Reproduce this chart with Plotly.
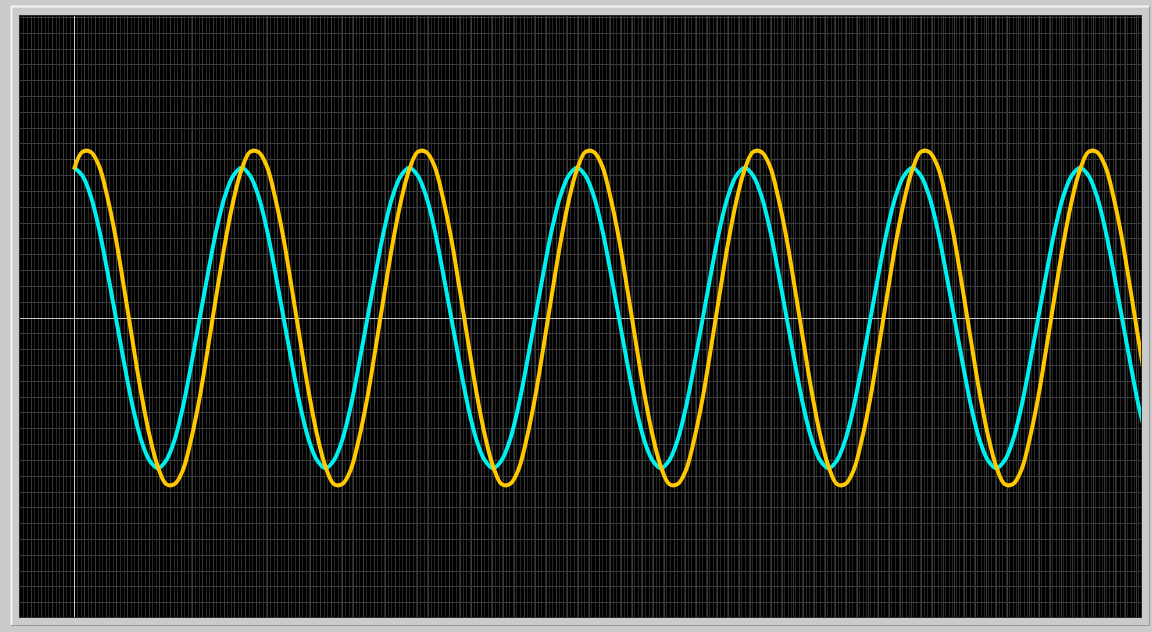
import plotly.graph_objects as go

# ---- data ----
t0 = 0.0          # first sample
dt = 5.0          # sample spacing

cyan_values = [
    0.95, 0.90, 0.77, 0.56, 0.29, 0.00, -0.29, -0.56, -0.77, -0.90,
    -0.95, -0.90, -0.77, -0.56, -0.29, 0.00, 0.29, 0.56, 0.77, 0.90,
    0.95, 0.90, 0.77, 0.56, 0.29, 0.00, -0.29, -0.56, -0.77, -0.90,
    -0.95, -0.90, -0.77, -0.56, -0.29, 0.00, 0.29, 0.56, 0.77, 0.90,
    0.95, 0.90, 0.77, 0.56, 0.29, 0.00, -0.29, -0.56, -0.77, -0.90,
    -0.95, -0.90, -0.77, -0.56, -0.29, 0.00, 0.29, 0.56, 0.77, 0.90,
    0.95, 0.90, 0.77, 0.56, 0.29, 0.00, -0.29, -0.56, -0.77, -0.90,
    -0.95, -0.90, -0.77, -0.56, -0.29, 0.00, 0.29, 0.56, 0.77, 0.90,
    0.95, 0.90, 0.77, 0.56, 0.29, 0.00, -0.29, -0.56, -0.77, -0.90,
    -0.95, -0.90, -0.77, -0.56, -0.29, 0.00, 0.29, 0.56, 0.77, 0.90,
    0.95, 0.90, 0.77, 0.56, 0.29, 0.00, -0.29, -0.56, -0.77, -0.90,
    -0.95, -0.90, -0.77, -0.56, -0.29, 0.00, 0.29, 0.56, 0.77, 0.90,
    0.95, 0.90, 0.77, 0.56, 0.29, 0.00, -0.29, -0.56, -0.77,
]

yellow_values = [
    0.94, 1.05, 1.05, 0.96, 0.76, 0.50, 0.18, -0.15, -0.47, -0.74,
    -0.94, -1.05, -1.05, -0.96, -0.76, -0.50, -0.18, 0.15, 0.47, 0.74,
    0.94, 1.05, 1.05, 0.96, 0.76, 0.50, 0.18, -0.15, -0.47, -0.74,
    -0.94, -1.05, -1.05, -0.96, -0.76, -0.50, -0.18, 0.15, 0.47, 0.74,
    0.94, 1.05, 1.05, 0.96, 0.76, 0.50, 0.18, -0.15, -0.47, -0.74,
    -0.94, -1.05, -1.05, -0.96, -0.76, -0.50, -0.18, 0.15, 0.47, 0.74,
    0.94, 1.05, 1.05, 0.96, 0.76, 0.50, 0.18, -0.15, -0.47, -0.74,
    -0.94, -1.05, -1.05, -0.96, -0.76, -0.50, -0.18, 0.15, 0.47, 0.74,
    0.94, 1.05, 1.05, 0.96, 0.76, 0.50, 0.18, -0.15, -0.47, -0.74,
    -0.94, -1.05, -1.05, -0.96, -0.76, -0.50, -0.18, 0.15, 0.47, 0.74,
    0.94, 1.05, 1.05, 0.96, 0.76, 0.50, 0.18, -0.15, -0.47, -0.74,
    -0.94, -1.05, -1.05, -0.96, -0.76, -0.50, -0.18, 0.15, 0.47, 0.74,
    0.94, 1.05, 1.05, 0.96, 0.76, 0.50, 0.18, -0.15, -0.47,
]

x_range = [-32.2, 636.3]
y_range = [-1.890, 1.909]

# ---- figure ----
W, H = 1152, 632
L, R, T, B = 20, 11, 16, 15
PW, PH = W - L - R, H - T - B

fig = go.Figure()
fig.add_trace(go.Scatter(
    x0=t0, dx=dt, y=cyan_values, mode="lines",
    line=dict(color="#00F0F0", width=4, shape="spline", smoothing=1.0),
    showlegend=False, hoverinfo="skip"))
fig.add_trace(go.Scatter(
    x0=t0, dx=dt, y=yellow_values, mode="lines",
    line=dict(color="#FFC800", width=4, shape="spline", smoothing=1.0),
    showlegend=False, hoverinfo="skip"))

def px_x(px):
    return (px - L) / PW

def px_y(py):
    return (H - B - py) / PH

shapes = [
    # raised bevel frame
    dict(type="line", xref="paper", yref="paper", x0=px_x(11), x1=px_x(1149),
         y0=px_y(6.5), y1=px_y(6.5), line=dict(color="#f4f4f4", width=2)),
    dict(type="line", xref="paper", yref="paper", x0=px_x(11.5), x1=px_x(11.5),
         y0=px_y(6.5), y1=px_y(625), line=dict(color="#f4f4f4", width=2)),
    dict(type="line", xref="paper", yref="paper", x0=px_x(11), x1=px_x(1149.5),
         y0=px_y(625.5), y1=px_y(625.5), line=dict(color="#9a9a9a", width=1)),
    dict(type="line", xref="paper", yref="paper", x0=px_x(1149.5), x1=px_x(1149.5),
         y0=px_y(6.5), y1=px_y(625.5), line=dict(color="#9a9a9a", width=1)),
]

fig.update_layout(
    width=W, height=H,
    margin=dict(l=L, r=R, t=T, b=B, pad=0),
    paper_bgcolor="#cbcbcb",
    plot_bgcolor="#000000",
    shapes=shapes,
    xaxis=dict(
        range=x_range, showticklabels=False, ticks="",
        showgrid=True, dtick=6.4, tick0=0, gridcolor="#3a3a3a", gridwidth=1,
        minor=dict(dtick=2.13, tick0=0, showgrid=True, gridcolor="#262626", gridwidth=1),
        zeroline=True, zerolinecolor="#c8c8c8", zerolinewidth=1,
        showline=True, linecolor="#2a2a2a", mirror=True, fixedrange=True,
    ),
    yaxis=dict(
        range=y_range, showticklabels=False, ticks="",
        showgrid=True, dtick=0.1, tick0=0, gridcolor="#3c3c3c", gridwidth=1,
        zeroline=True, zerolinecolor="#c8c8c8", zerolinewidth=1,
        showline=True, linecolor="#2a2a2a", mirror=True, fixedrange=True,
    ),
)

fig.write_html(
    "out.html",
    config={"displayModeBar": False},
    post_script="document.body.style.margin='0';document.body.style.overflow='hidden';",
)
